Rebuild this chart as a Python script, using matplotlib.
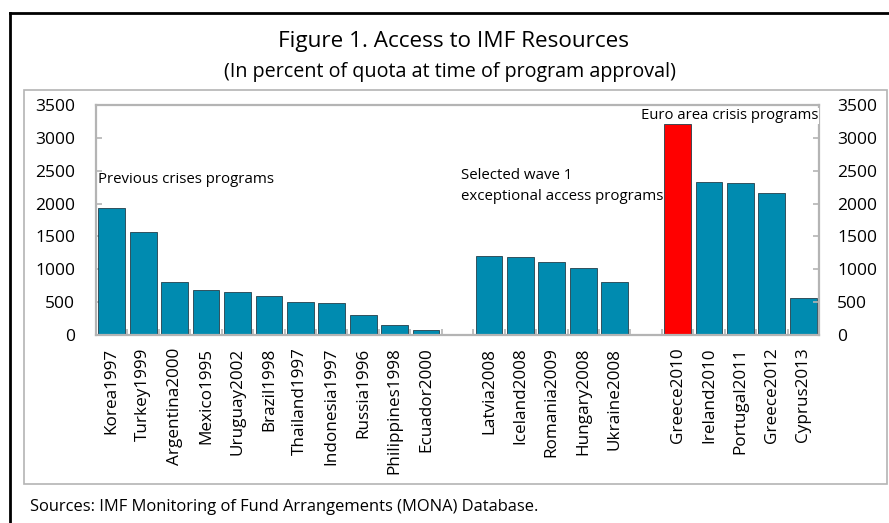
import numpy as np
import matplotlib.pyplot as plt
from matplotlib.lines import Line2D
from matplotlib.patches import Rectangle

plt.rcParams['font.family'] = ['Open Sans', 'DejaVu Sans']

prev_names = ['Korea1997', 'Turkey1999', 'Argentina2000', 'Mexico1995', 'Uruguay2002',
              'Brazil1998', 'Thailand1997', 'Indonesia1997', 'Russia1996',
              'Philippines1998', 'Ecuador2000']
prev_vals = [1939, 1560, 800, 688, 650, 600, 505, 490, 300, 150, 75]

wave_names = ['Latvia2008', 'Iceland2008', 'Romania2009', 'Hungary2008', 'Ukraine2008']
wave_vals = [1200, 1190, 1111, 1015, 802]

euro_names = ['Greece2010', 'Ireland2010', 'Portugal2011', 'Greece2012', 'Cyprus2013']
euro_vals = [3212, 2322, 2306, 2159, 563]

yticks = [0, 500, 1000, 1500, 2000, 2500, 3000, 3500]

# positions: one empty slot between groups
names = prev_names + [''] + wave_names + [''] + euro_names
vals = prev_vals + [np.nan] + wave_vals + [np.nan] + euro_vals
x = np.arange(len(names))

teal = '#008BB0'
colors = [teal] * len(names)
colors[names.index('Greece2010')] = '#FF0000'

W, H = 889, 523
fig = plt.figure(figsize=(W / 100, H / 100), dpi=100)

# outer black frame (runs off the right/bottom edge)
fig.add_artist(Line2D([10 / W, 10 / W], [0, 1 - 13 / H], color='black', lw=2, transform=fig.transFigure))
fig.add_artist(Line2D([10 / W, 1], [1 - 13 / H, 1 - 13 / H], color='black', lw=2, transform=fig.transFigure))
# inner gray frame
fig.add_artist(Rectangle((24 / W, 1 - 484 / H), (887 - 24) / W, (484 - 90) / H, fill=False,
                         ec='#B4B4B4', lw=1.2, transform=fig.transFigure))

fig.text(454 / W, 1 - 41 / H, 'Figure 1. Access to IMF Resources', ha='center', va='center', fontsize=16.2)
fig.text(450 / W, 1 - 72 / H, '(In percent of quota at time of program approval)', ha='center', va='center', fontsize=14.2)
fig.text(30 / W, 1 - 507 / H, 'Sources: IMF Monitoring of Fund Arrangements (MONA) Database.', ha='left', va='center', fontsize=11.9)

ax = fig.add_axes([96 / W, 1 - 335 / H, (819 - 96) / W, (335 - 105) / H])
ax.bar(x, vals, width=0.85, color=colors, edgecolor='#233F4A', linewidth=0.6, zorder=2)
ax.set_xlim(-0.5, len(names) - 0.5)
ax.set_ylim(0, 3500)

for s in ax.spines.values():
    s.set_color('#B4B4B4')
    s.set_linewidth(1.6)

ax.set_xticks(x)
ax.set_xticklabels(names, rotation=90, fontsize=12.3)
ax.set_xticks(np.arange(-0.5, len(names) - 0.4, 1), minor=True)
ax.tick_params(axis='x', which='major', length=0, pad=9)
ax.tick_params(axis='x', which='minor', direction='in', length=4, color='#B4B4B4', width=1.2)

ax.set_yticks(yticks)
ax.tick_params(axis='y', direction='in', length=4, color='#B4B4B4', width=1.2, labelsize=12.5, pad=15)

ax2 = ax.twinx()
ax2.set_ylim(0, 3500)
ax2.set_yticks(yticks)
ax2.tick_params(axis='y', direction='in', length=4, color='#B4B4B4', width=1.2, labelsize=12.5, pad=13)
for s in ax2.spines.values():
    s.set_visible(False)

ax.text(-0.45, 2360, 'Previous crises programs', ha='left', va='center', fontsize=10.8)
ax.text(11.1, 2270, 'Selected wave 1\nexceptional access programs', ha='left', va='center',
        fontsize=10.8, linespacing=1.6)
ax.text(22.48, 3335, 'Euro area crisis programs', ha='right', va='center', fontsize=10.7,
        bbox=dict(fc='white', ec='none', pad=0.5), zorder=3)

fig.savefig('out.png', dpi=100)
